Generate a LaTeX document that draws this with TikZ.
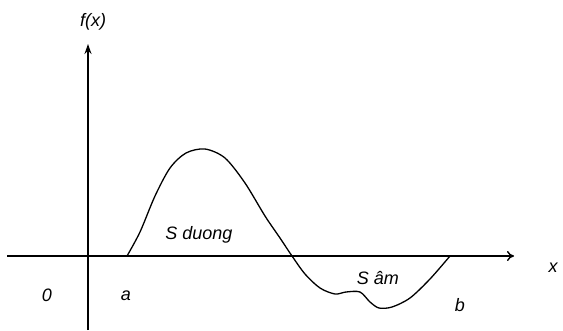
\documentclass[tikz,border=0pt]{standalone}
\usepackage{fontspec}
\setmainfont{Liberation Sans}
\usetikzlibrary{arrows.meta}
\begin{document}
\begin{tikzpicture}[x=1pt,y=-1pt,
  lbl/.style={font=\itshape\fontsize{18}{20}\selectfont, inner sep=0pt},
  axis/.style={line width=1.4pt}]
\useasboundingbox (0,0) rectangle (563,330);
\coordinate (xs) at (7,256);
\coordinate (xe) at (514,256);
\coordinate (ys) at (88,330);
\coordinate (ye) at (88,44);
\draw[axis,-{To[length=7pt,width=10pt]}] (xs) -- (xe);
\draw[axis,-{Stealth[length=10pt,width=7pt]}] (ys) -- (ye);
\node[lbl] (fx) at (93,22) {f(x)};
\node[lbl] (xl) at (553,268) {x};
\node[lbl] (o) at (47,295) {0};
\node[lbl] (a) at (126,296) {a};
\node[lbl] (b) at (460,305) {b};
\node[lbl] (sd) at (199,235) {S duong};
\node[lbl] (sa) at (378,278) {S âm};
\draw[line width=1.3pt] plot[smooth,tension=0.5] coordinates {
(127,256) (140,232) (155,196) (170,168) (186,153) (205,149) (225,158) (245,183) (265,216) (280,238) (292,256) (305,274) (320,288) (335,294) (346,292) (360,292) (370,302) (379,308) (392,307) (410,298) (430,279) (450,256)};
\end{tikzpicture}
\end{document}
